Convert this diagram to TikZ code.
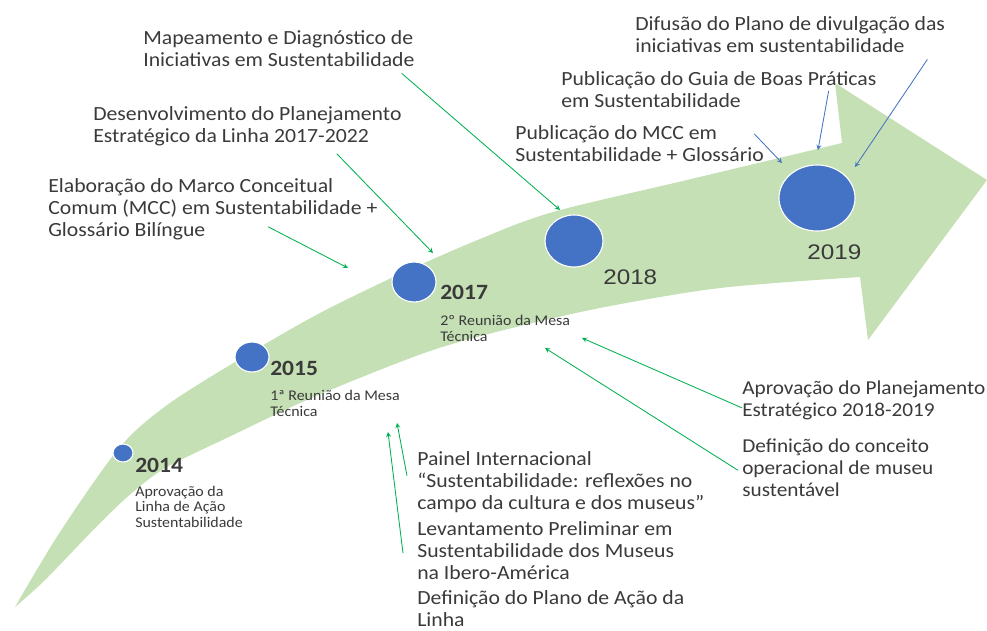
\documentclass[tikz,border=0pt]{standalone}
\usepackage{fontspec}
\setmainfont{Carlito}[FakeStretch=1.08]
\newfontfamily\arialf{Liberation Sans}[FakeStretch=1.15]
\usetikzlibrary{shapes.geometric}
\definecolor{faixa}{HTML}{C5E0B4}
\definecolor{azul}{HTML}{4472C4}
\definecolor{verde}{HTML}{00B050}
\definecolor{cinza}{HTML}{3A3A3A}

\begin{document}
\begin{tikzpicture}
    [x=0.025cm, y=-0.025cm,
     texto/.style={anchor=base west, inner sep=0, align=left, text=cinza, font=\fontsize{14.3}{15.6}\selectfont},
     nota/.style={anchor=base west, inner sep=0, align=left, text=cinza, font=\fontsize{10.5}{10.7}\selectfont},
     ano/.style={anchor=base west, inner sep=0, text=cinza, font=\fontsize{15.5}{16}\selectfont\bfseries},
     anoarial/.style={anchor=base west, inner sep=0, text=cinza, font=\arialf\fontsize{15}{16}\selectfont},
     marco/.style={ellipse, fill=azul, draw=white, line width=0.8pt, inner sep=0},
     seta/.style={-stealth, verde, line width=0.6pt},
     setaazul/.style={-stealth, azul, line width=0.6pt}]
    \useasboundingbox (0,0) rectangle (987,631);

    % faixa curva
    \fill[faixa] plot[smooth] coordinates {(15,607) (60,532) (120,447) (170,403) (250,353) (320,313) (400,274) (480,239) (553,212) (687,180) (842,143)}
        -- (835,83) -- (987,180) -- (868,340) -- (860,277)
        -- plot[smooth] coordinates {(860,277) (720,288) (600,308) (500,331) (433,350) (367,375) (300,403) (233,435) (167,467) (133,492) (100,523) (45,580) (15,607)} -- cycle;

    \node[marco, minimum width=0.5cm, minimum height=0.45cm] (m2014) at (123,453) {};
    \node[marco, minimum width=0.85cm, minimum height=0.75cm] (m2015) at (252,357) {};
    \node[marco, minimum width=1.1cm, minimum height=1cm] (m2017) at (414,282) {};
    \node[marco, minimum width=1.45cm, minimum height=1.3cm] (m2018) at (574,241) {};
    \node[marco, minimum width=1.9cm, minimum height=1.65cm] (m2019) at (817,198) {};

    \node[ano] (a2014) at (135,472) {2014};
    \node[ano] (a2015) at (270,375) {2015};
    \node[ano] (a2017) at (440,299) {2017};
    \node[anoarial] (a2018) at (603,284) {2018};
    \node[anoarial] (a2019) at (807,259) {2019};

    % a ancora base fica na ultima linha
    \node[nota] (n2014) at (135,527) {Aprovação da\\Linha de Ação\\Sustentabilidade};
    \node[nota] (n2015) at (270,416) {1ª Reunião da Mesa\\Técnica};
    \node[nota] (n2017) at (440,341) {2º Reunião da Mesa\\Técnica};

    \node[texto] (mapeo) at (143,66) {Mapeamento e Diagnóstico de\\Iniciativas em Sustentabilidade};
    \node[texto] (desen) at (93,142) {Desenvolvimento do Planejamento\\Estratégico da Linha 2017-2022};
    \node[texto] (elab) at (48,236) {Elaboração do Marco Conceitual\\Comum (MCC) em Sustentabilidade +\\Glossário Bilíngue};
    \node[texto] (difusao) at (635,52) {Difusão do Plano de divulgação das\\iniciativas em sustentabilidade};
    \node[texto] (guia) at (561,107) {Publicação do Guia de Boas Práticas\\em Sustentabilidade};
    \node[texto] (mcc) at (515,161) {Publicação do MCC em\\Sustentabilidade + Glossário};
    \node[texto, font=\fontsize{14}{15.6}\selectfont] (aprov) at (742,416) {Aprovação do Planejamento\\Estratégico 2018-2019};
    \node[texto, font=\fontsize{14}{15.6}\selectfont] (defin) at (742,496) {Definição do conceito\\operacional de museu\\sustentável};
    \node[texto] (painel) at (417,509) {Painel Internacional\\“Sustentabilidade: reflexões no\\campo da cultura e dos museus”};
    \node[texto] (levant) at (417,579) {Levantamento Preliminar em\\Sustentabilidade dos Museus\\na Ibero-América};
    \node[texto] (plano) at (417,626) {Definição do Plano de Ação da\\Linha};

    % pontas das setas
    \coordinate (mapeo-fim) at (560,210);
    \coordinate (desen-fim) at (433,253);
    \coordinate (elab-fim) at (348,268);
    \coordinate (aprov-fim) at (582,338);
    \coordinate (defin-fim) at (545,348);
    \coordinate (painel-fim) at (397,423);
    \coordinate (levant-fim) at (388,432);
    \coordinate (mcc-fim) at (782,163);
    \coordinate (guia-fim) at (818,150);
    \coordinate (difusao-fim) at (855,167);

    \draw[seta] (mapeo.south east) ++(-13,7) -- (mapeo-fim);
    \draw[seta] (desen.south east) ++(-65,8) -- (desen-fim);
    \draw[seta] (elab.south west) ++(220,-13) -- (elab-fim);
    \draw[seta] (aprov.west) ++(0,8) -- (aprov-fim);
    \draw[seta] (defin.west) ++(-4,3) -- (defin-fim);
    \draw[seta] (painel.west) ++(-10,-6) -- (painel-fim);
    \draw[seta] (levant.west) ++(-14,3) -- (levant-fim);
    \draw[setaazul] (mcc.north east) ++(-10,9) -- (mcc-fim);
    \draw[setaazul] (guia.north east) ++(-48,20) -- (guia-fim);
    \draw[setaazul] (difusao.south east) ++(-18,7) -- (difusao-fim);

\end{tikzpicture}
\end{document}
